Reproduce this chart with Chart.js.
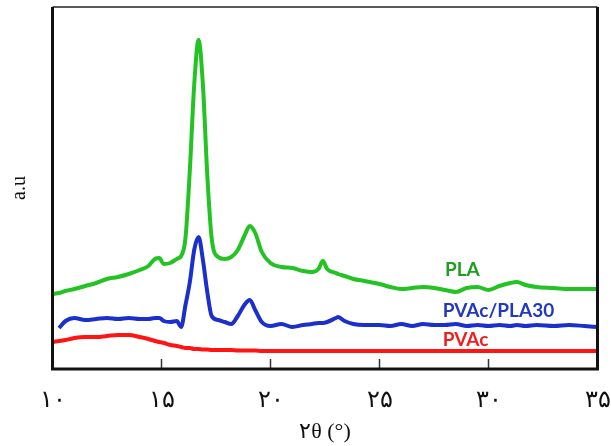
<!DOCTYPE html>
<html>
<head>
<meta charset="utf-8">
<script src="https://cdn.jsdelivr.net/npm/chart.js@4.4.1/dist/chart.umd.min.js"></script>
<style>
  html, body { margin: 0; padding: 0; background: #fff; }
  #wrap { width: 611px; height: 446px; position: relative; }
</style>
</head>
<body>
<div id="wrap"><canvas id="xrdChart"></canvas></div>
<script>
// 2θ (degrees) shared by all three patterns
const twoTheta = [10.0, 10.3, 10.6, 11.0, 11.5, 12.0, 12.5, 13.0, 13.5, 14.0, 14.4, 14.7, 14.9, 15.1, 15.4, 15.7, 15.9,
    16.1, 16.3, 16.5, 16.7, 16.9, 17.1, 17.3, 17.6, 17.9, 18.2, 18.5, 18.8, 19.05, 19.3, 19.6, 20.0, 20.5, 21.0, 21.5,
    21.9, 22.2, 22.4, 22.6, 23.0, 23.1, 23.4, 23.8, 24.3, 25.0, 25.5, 26.0, 26.5, 27.0, 27.5, 28.0, 28.5, 29.0, 29.5,
    30.0, 30.5, 31.0, 31.3, 31.7, 32.2, 33.0, 33.7, 34.4, 35.0];

// intensities (a.u.)
const plaValues = [75, 76, 78, 80, 83, 86, 90, 92, 95, 99, 103, 110, 111, 105, 106, 110, 113,
    131, 199, 284, 329, 284, 194, 131, 112, 110, 112, 119, 133, 143, 136, 117, 106, 102, 101, 98,
    97, 100, 108, 100, 96, 95, 93, 90, 88, 85, 82, 80, 81, 82, 81, 79, 77, 81, 82,
    79, 83, 86, 87, 84, 82, 81, 80, 80, 80];
const blendValues = [null, 41, 48, 51, 49, 50, 51, 50, 51, 50, 50, 51, 51, 48, 47, 48, 42,
    64, 87, 119, 132, 109, 77, 53, 49, 47, 45, 53, 64, 69, 59, 47, 43, 45, 42, 44,
    45, 46, 46, 47, 51, 52, 48, 45, 44, 44, 43, 45, 43, 45, 44, 44, 45, 43, 44,
    43, 44, 43, 44, 43, 44, 43, 44, 43, 42];
const pvacValues = [27, 28, 29, 31, 32, 32, 33, 34, 34, 32, 30, 28, 27, 26, 24, 23, 22,
    21, 21, 20, 20, 19.5, 19.5, 19, 19, 19, 19, 18.5, 18.5, 18.5, 18.5, 18, 18, 18, 18, 18,
    18, 18, 18, 18, 18, 18, 18, 18, 18, 18, 18, 18, 18, 18, 18, 18, 18, 18, 18,
    18, 18, 18, 18, 18, 18, 18, 18, 18, 18];

const seriesNames = ['PLA', 'PVAc/PLA30', 'PVAc'];
const lineColors = ['#22c322', '#1b2fcc', '#ff1414'];
const textColors = ['#1f9e1f', '#2238c0', '#f01e1e'];

const tickValues = [10, 15, 20, 25, 30, 35];
const tickLabels = ['۱۰', '۱۵', '۲۰', '۲۵', '۳۰', '۳۵'];

const toPoints = vals => twoTheta.map((t, i) => ({ x: t, y: vals[i] }));

// 坐标框和内向刻度
const framePlugin = {
    id: 'frame',
    afterDraw(chart) {
        const { ctx, chartArea: a, scales } = chart;
        ctx.save();
        ctx.strokeStyle = '#333';
        ctx.lineWidth = 1.5;
        tickValues.slice(1, -1).forEach(v => {
            const px = scales.x.getPixelForValue(v);
            ctx.beginPath();
            ctx.moveTo(px, a.bottom);
            ctx.lineTo(px, a.bottom - 10);
            ctx.stroke();
        });
        ctx.strokeStyle = '#222';
        ctx.lineWidth = 1.5;
        ctx.beginPath();
        ctx.moveTo(a.left, a.top);
        ctx.lineTo(a.right, a.top);
        ctx.stroke();
        ctx.strokeStyle = '#111';
        ctx.lineWidth = 3;
        ctx.beginPath();
        ctx.moveTo(a.left, a.top);
        ctx.lineTo(a.left, a.bottom);
        ctx.lineTo(a.right, a.bottom);
        ctx.lineTo(a.right, a.top);
        ctx.stroke();
        ctx.restore();
    }
};

// 曲线名称标注
const labelPlugin = {
    id: 'seriesLabels',
    afterDatasetsDraw(chart) {
        const { ctx, scales } = chart;
        const spots = [[28.0, 99], [27.9, 58], [27.9, 29]];
        ctx.save();
        ctx.font = 'bold 19px Lato, "Open Sans", sans-serif';
        ctx.textAlign = 'left';
        ctx.textBaseline = 'middle';
        seriesNames.forEach((name, i) => {
            ctx.fillStyle = textColors[i];
            ctx.fillText(name, scales.x.getPixelForValue(spots[i][0]), scales.y.getPixelForValue(spots[i][1]));
        });
        ctx.restore();
    }
};

new Chart(document.getElementById('xrdChart'), {
    type: 'line',
    data: {
        datasets: [plaValues, blendValues, pvacValues].map((vals, i) => ({
            label: seriesNames[i],
            data: toPoints(vals),
            borderColor: lineColors[i],
            borderWidth: 4,
            pointRadius: 0,
            cubicInterpolationMode: 'monotone',
            fill: false
        }))
    },
    options: {
        responsive: true,
        maintainAspectRatio: false,
        animation: false,
        layout: { padding: { left: 0, right: 13.5, top: 7, bottom: 0 } },
        plugins: { legend: { display: false }, tooltip: { enabled: false } },
        scales: {
            x: {
                type: 'linear',
                min: 10,
                max: 35,
                afterBuildTicks: s => { s.ticks = tickValues.map(v => ({ value: v })); },
                afterFit: s => { s.height = 77; s.paddingLeft = 0; s.paddingRight = 0; },
                grid: { display: false },
                border: { display: false },
                ticks: {
                    callback: (v, i) => tickLabels[i],
                    color: '#111',
                    padding: 9,
                    maxRotation: 0,
                    autoSkip: false,
                    font: { family: '"Liberation Serif", "DejaVu Serif", serif', size: 24 }
                },
                title: {
                    display: true,
                    text: '۲θ (°)',
                    color: '#111',
                    padding: { top: 0, bottom: 1 },
                    font: { family: '"Liberation Serif", "DejaVu Serif", serif', size: 22 }
                }
            },
            y: {
                min: 0,
                max: 362,
                afterFit: s => { s.width = 52.5; },
                grid: { display: false },
                border: { display: false },
                ticks: { display: false },
                title: {
                    display: true,
                    text: 'a.u',
                    color: '#111',
                    padding: { top: 8, bottom: 0 },
                    font: { family: '"Liberation Serif", serif', size: 20 }
                }
            }
        }
    },
    plugins: [framePlugin, labelPlugin]
});
</script>
</body>
</html>
